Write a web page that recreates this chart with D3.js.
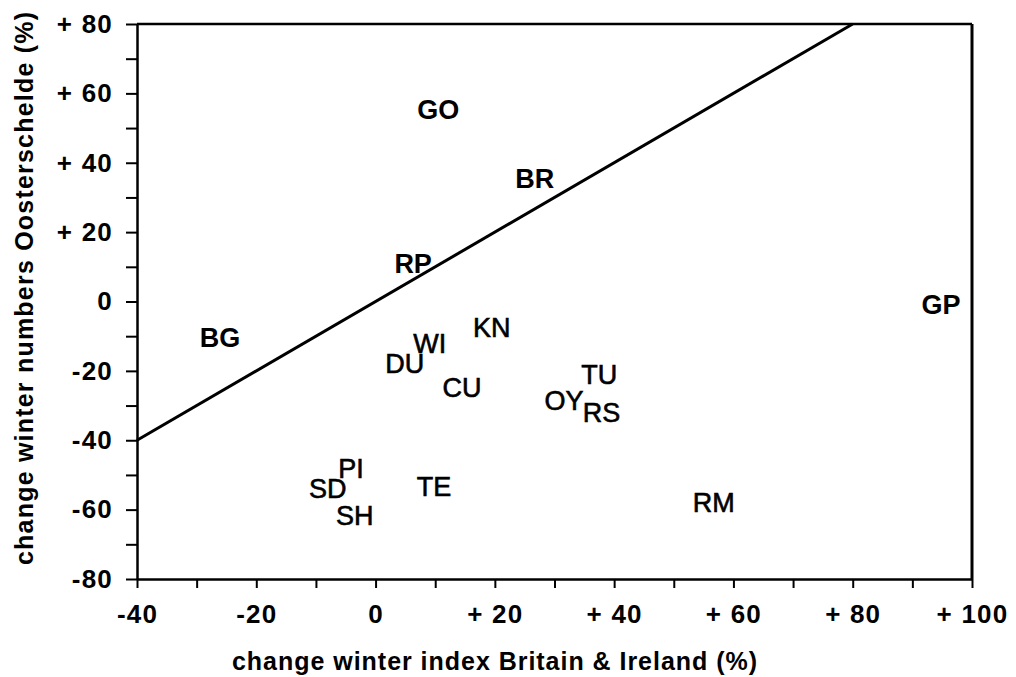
<!DOCTYPE html>
<html>
<head>
<meta charset="utf-8">
<script src="https://cdn.jsdelivr.net/npm/d3@7"></script>
<style>
  html, body { margin: 0; padding: 0; background: #fff; }
  svg { display: block; }
  text { font-family: "Liberation Sans", Arial, Helvetica, sans-serif; fill: #000; }
</style>
</head>
<body>
<svg id="chart" width="1016" height="677"></svg>
<script>
// Species codes and their change in winter numbers (%)
const species = ["GO", "BR", "RP", "BG", "GP", "KN", "WI", "DU", "CU", "TU", "OY", "RS", "PI", "SD", "SH", "TE", "RM"];
// change winter index Britain & Ireland (%)
const changeBritain = [10.5, 26.7, 6.3, -26.1, 94.8, 19.5, 9.1, 4.9, 14.5, 37.5, 31.6, 37.9, -4.1, -8.0, -3.5, 9.8, 56.7];
// change winter numbers Oosterschelde (%)
const changeOosterschelde = [55.5, 35.6, 11.1, -10.2, -0.7, -7.4, -12.0, -17.7, -24.6, -20.9, -28.4, -31.9, -48.0, -53.8, -61.5, -53.4, -57.8];
// Reference line of equal change (y = x)
const equalLine = [[-40, -40], [80, 80]];
// Axis ticks
const xTickValues = [-40, -30, -20, -10, 0, 10, 20, 30, 40, 50, 60, 70, 80, 90, 100];
const yTickValues = [-80, -70, -60, -50, -40, -30, -20, -10, 0, 10, 20, 30, 40, 50, 60, 70, 80];
const xTickLabels = {"-40": "-40", "-20": "-20", "0": "0", "20": "+ 20", "40": "+ 40", "60": "+ 60", "80": "+ 80", "100": "+ 100"};
const yTickLabels = {"-80": "-80", "-60": "-60", "-40": "-40", "-20": "-20", "0": "0", "20": "+ 20", "40": "+ 40", "60": "+ 60", "80": "+ 80"};
const xTitle = "change winter index Britain & Ireland (%)";
const yTitle = "change winter numbers Oosterschelde (%)";
// Codes printed in a heavier face
const heavyCodes = new Set(["GO", "GP", "BG", "BR", "RP"]);

const margin = {top: 24, right: 44, bottom: 98, left: 137};
const W = 1016, H = 677;
const svg = d3.select("#chart");

const x = d3.scaleLinear().domain([-40, 100]).range([margin.left, W - margin.right]);
const y = d3.scaleLinear().domain([-80, 80]).range([H - margin.bottom, margin.top]);

// Frame: top and right edges
svg.append("line")
  .attr("x1", x(-40)).attr("x2", x(100)).attr("y1", y(80)).attr("y2", y(80))
  .attr("stroke", "#000").attr("stroke-width", 2.5);
svg.append("line")
  .attr("x1", x(100)).attr("x2", x(100)).attr("y1", y(80)).attr("y2", y(-80))
  .attr("stroke", "#000").attr("stroke-width", 3);

// X axis
const xAxis = svg.append("g")
  .attr("transform", `translate(0,${y(-80)})`)
  .call(d3.axisBottom(x)
    .tickValues(xTickValues)
    .tickSize(9)
    .tickSizeOuter(0)
    .tickPadding(16)
    .tickFormat(d => xTickLabels[String(d)] || ""));
xAxis.select(".domain").attr("stroke-width", 2.5);
xAxis.selectAll(".tick line").attr("stroke-width", 2);
xAxis.selectAll(".tick text")
  .attr("font-size", 26).attr("font-weight", "bold").attr("letter-spacing", 1.2)
  .attr("dy", "0.72em")
  .attr("font-family", "'Liberation Sans', Arial, sans-serif");

// Y axis
const yAxis = svg.append("g")
  .attr("transform", `translate(${x(-40)},0)`)
  .call(d3.axisLeft(y)
    .tickValues(yTickValues)
    .tickSize(11)
    .tickSizeOuter(0)
    .tickPadding(13)
    .tickFormat(d => yTickLabels[String(d)] || ""));
yAxis.select(".domain").attr("stroke-width", 2.5);
yAxis.selectAll(".tick line").attr("stroke-width", 2);
yAxis.selectAll(".tick text")
  .attr("font-size", 26).attr("font-weight", "bold").attr("letter-spacing", 1.2)
  .attr("font-family", "'Liberation Sans', Arial, sans-serif");

// Line of equal change
svg.append("path")
  .datum(equalLine)
  .attr("d", d3.line().x(d => x(d[0])).y(d => y(d[1])))
  .attr("fill", "none").attr("stroke", "#000").attr("stroke-width", 3);

// Species code labels
svg.append("g")
  .selectAll("text")
  .data(species)
  .join("text")
  .attr("x", (d, i) => x(changeBritain[i]))
  .attr("y", (d, i) => y(changeOosterschelde[i]))
  .attr("text-anchor", "middle")
  .attr("dy", "0.36em")
  .attr("font-size", 27)
  .attr("font-weight", d => heavyCodes.has(d) ? "bold" : "normal")
  .attr("stroke", "#000")
  .attr("stroke-width", d => heavyCodes.has(d) ? 0 : 0.6)
  .text(d => d);

// Axis titles
svg.append("text")
  .attr("x", (232 + 757) / 2)
  .attr("y", 670)
  .attr("text-anchor", "middle")
  .attr("font-size", 25)
  .attr("font-weight", "bold")
  .attr("textLength", 525)
  .attr("lengthAdjust", "spacing")
  .text(xTitle);

svg.append("text")
  .attr("transform", `translate(33,${(12 + 565) / 2}) rotate(-90)`)
  .attr("text-anchor", "middle")
  .attr("font-size", 25)
  .attr("font-weight", "bold")
  .attr("textLength", 553)
  .attr("lengthAdjust", "spacing")
  .text(yTitle);
</script>
</body>
</html>
